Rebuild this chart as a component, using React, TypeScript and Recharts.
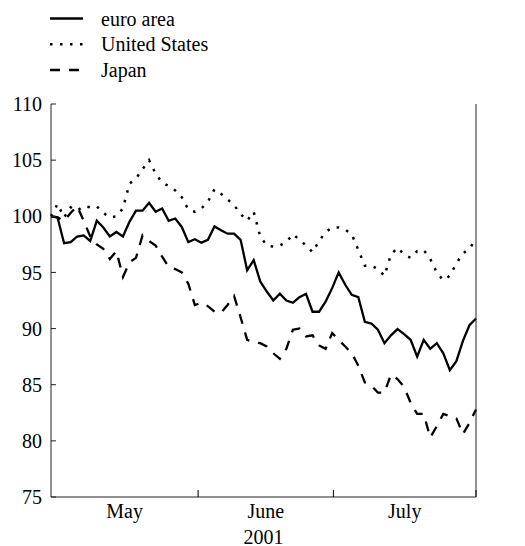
import { Line, LineChart, XAxis, YAxis } from "recharts";

const seriesNames = ["euro area", "United States", "Japan"];
const months = ["May", "June", "July"];
const monthBounds = [0, 22.5, 43.2, 65];
const yearLabel = "2001";
const yTicks = [75, 80, 85, 90, 95, 100, 105, 110];

const euroArea = [
  100, 99.9, 97.6, 97.7, 98.2, 98.3, 97.8, 99.6, 99.0, 98.2,
  98.6, 98.2, 99.5, 100.5, 100.5, 101.2, 100.4, 100.7, 99.6, 99.8,
  99.05, 97.7, 97.95, 97.65, 97.9, 99.1, 98.75, 98.45, 98.45, 97.9,
  95.2, 96.1, 94.2, 93.3, 92.5, 93.1, 92.5, 92.3, 92.8, 93.1,
  91.5, 91.5, 92.4, 93.6, 95.0, 93.9, 93.0, 92.8, 90.6, 90.45,
  89.9, 88.7, 89.4, 89.95, 89.5, 89.0, 87.5, 89.0, 88.2, 88.7,
  87.8, 86.3, 87.1, 88.9, 90.3, 90.9,
];

const unitedStates = [
  100.0, 101.1, 99.9, 100.8, 100.5, 100.9, 100.8, 100.9, 100.3, 99.9,
  100.0, 100.7, 102.9, 103.35, 104.2, 105.0, 103.8, 103.0, 102.7, 102.3,
  101.7, 100.6, 100.4, 100.7, 101.3, 102.4, 102.0, 101.5, 101.0, 100.2,
  99.6, 100.4, 98.2, 97.4, 97.3, 97.4, 97.7, 98.4, 97.9, 97.4,
  96.8, 97.8, 98.6, 99.0, 99.0, 98.8, 98.4, 97.0, 95.6, 95.6,
  95.3, 94.7, 96.6, 97.2, 96.6, 96.3, 96.9, 97.0, 96.2, 95.0,
  94.3, 94.7, 95.8, 96.7, 97.1, 98.0,
];

const japan = [
  100, 99.9, 99.6, 100.3, 100.9, 99.6, 98.2, 97.5, 97.1, 96.2,
  96.9, 94.6, 95.9, 96.3, 98.3, 97.8, 97.4, 96.4, 95.5, 95.3,
  95.0, 94.0, 92.1, 92.3, 92.0, 91.5, 91.4, 92.1, 92.9, 91.0,
  89.0, 88.8, 88.7, 88.4, 87.8, 87.3, 88.2, 89.9, 90.0, 89.3,
  89.4, 88.5, 88.2, 89.6, 89.0, 88.4, 87.8, 86.7, 85.2, 84.9,
  84.3, 84.3, 85.9, 85.5, 84.8, 83.4, 82.4, 82.4, 80.3, 81.3,
  82.4, 82.2, 82.0, 80.6, 81.6, 82.8,
];

const data = euroArea.map((v, i) => ({ i, euro: v, us: unitedStates[i], jp: japan[i] }));

const monthMids = months.map((_, k) => (monthBounds[k] + monthBounds[k + 1]) / 2);
const xTicks = [...monthBounds.slice(1), ...monthMids];

const FONT = "Liberation Serif, Tinos, Times New Roman, Times, DejaVu Serif, serif";
const textStyle = { fontFamily: FONT, fontSize: 20, fill: "#000" };
const dashes = [undefined, "2.5 7.5", "10 9"];

function MonthTick(props: any) {
  const { x, y, payload } = props;
  const k = monthMids.indexOf(payload.value);
  if (k >= 0) {
    return (
      <text x={x} y={y + 21} textAnchor="middle" style={textStyle}>
        {months[k]}
      </text>
    );
  }
  return <line x1={x} x2={x} y1={y} y2={y - 7} stroke="#222" strokeWidth={1.2} />;
}

function LegendBox() {
  return (
    <svg width={525} height={100} style={{ position: "absolute", left: 0, top: 0, pointerEvents: "none" }}>
      {seriesNames.map((name, k) => {
        const ly = 18.5 + k * 25.8;
        return (
          <g key={name}>
            <line x1={50} x2={83} y1={ly} y2={ly} stroke="#000" strokeWidth={2.5} strokeDasharray={dashes[k]} />
            <text x={101} y={ly + 7} style={textStyle}>
              {name}
            </text>
          </g>
        );
      })}
    </svg>
  );
}

export default function App() {
  return (
    <div style={{ position: "absolute", left: 0, top: 0, width: 525, height: 546, background: "#fff", fontFamily: FONT }}>
      <LineChart width={525} height={546} data={data} margin={{ top: 104, right: 0, bottom: 0, left: 0 }} style={{ fontFamily: FONT }}>
        <XAxis
          dataKey="i"
          type="number"
          domain={[0, 65]}
          ticks={xTicks}
          tick={<MonthTick />}
          tickLine={false}
          tickSize={0}
          tickMargin={0}
          height={49}
          interval={0}
          stroke="#222"
          label={{ value: yearLabel, position: "insideBottom", offset: 2, style: textStyle }}
        />
        <YAxis
          yAxisId="l"
          domain={[75, 110]}
          ticks={yTicks}
          width={51}
          tickSize={-5}
          tickMargin={14}
          tick={textStyle}
          stroke="#222"
          interval={0}
        />
        <YAxis
          yAxisId="r"
          orientation="right"
          domain={[75, 110]}
          ticks={yTicks}
          width={49}
          tickSize={-5}
          tickMargin={12}
          tick={textStyle}
          stroke="#222"
          interval={0}
        />
        <Line yAxisId="l" type="linear" dataKey="jp" stroke="#000" strokeWidth={2.3} strokeDasharray="10 9" dot={false} isAnimationActive={false} />
        <Line yAxisId="l" type="linear" dataKey="us" stroke="#000" strokeWidth={2.5} strokeDasharray="2.5 7.5" dot={false} isAnimationActive={false} />
        <Line yAxisId="l" type="linear" dataKey="euro" stroke="#000" strokeWidth={2.3} dot={false} isAnimationActive={false} />
      </LineChart>
      <LegendBox />
    </div>
  );
}
